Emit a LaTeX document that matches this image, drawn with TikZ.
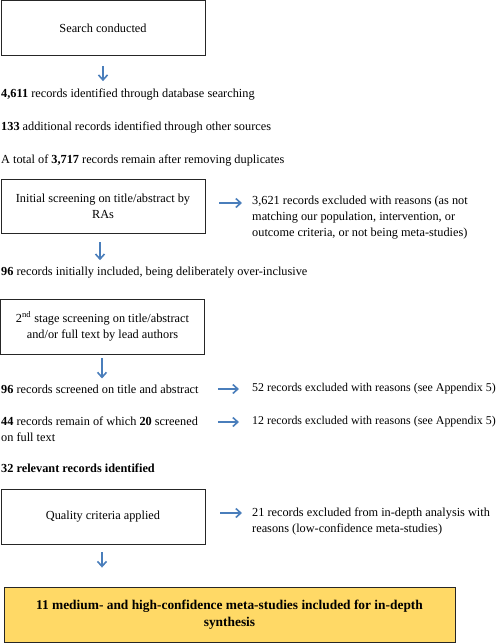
\documentclass[tikz,border=0pt]{standalone}
\usepackage{fontspec}
\setmainfont{Liberation Serif}
\usepackage{tikz}
\usetikzlibrary{arrows.meta,positioning}
\definecolor{flowblue}{HTML}{4A7EBB}
\definecolor{gold}{HTML}{FFD966}
\newcommand{\flowfont}{\fontsize{12.3}{16}\selectfont}
\tikzset{
  >={Straight Barb[length=5pt,width=9pt]},
  stepbox/.style={
    rectangle,
    draw=black!85, line width=0.9pt,
    minimum width=204pt,
    minimum height=55pt,
    align=center,
    font=\flowfont},
  finalbox/.style={
    stepbox,
    fill=gold,
    minimum width=451pt,
    font=\fontsize{13.4}{16.5}\selectfont\bfseries},
  note/.style={
    anchor=west,
    inner sep=0pt,
    align=left,
    font=\flowfont},
  flow/.style={draw=flowblue, line width=1.6pt, ->},
}
\begin{document}
\begin{tikzpicture}[x=1pt,y=-1pt]
  \useasboundingbox (0,0) rectangle (500,643);
  % left column
  \node[stepbox] (search) at (103,27.8) {Search conducted};
  \node[note] (dbrec) at (1,94) {\textbf{4,611} records identified through database searching};
  \node[note] (otherrec) at (1,127) {\textbf{133} additional records identified through other sources};
  \node[note] (total) at (1,160) {A total of \textbf{3,717} records remain after removing duplicates};
  \node[stepbox, minimum height=54pt] (initscreen) at (103,206) {Initial screening on title/abstract by\\RAs};
  \node[note] (initincl) at (1,273) {\textbf{96} records initially included, being deliberately over-inclusive};
  \node[stepbox] (stage2) at (102.5,326.5) {2\textsuperscript{nd} stage screening on title/abstract\\and/or full text by lead authors};
  \node[note] (screened) at (1,389) {\textbf{96} records screened on title and abstract};
  \node[note] (remain) at (1,429.5) {\textbf{44} records remain of which \textbf{20} screened\\on full text};
  \node[note, font=\flowfont\bfseries] (relevant) at (1,468) {32 relevant records identified};
  \node[stepbox] (quality) at (103,516.5) {Quality criteria applied};
  \node[finalbox] (final) at (229.5,614.5) {11 medium- and high-confidence meta-studies included for in-depth\\synthesis};
  % right column
  \node[note] (initexcl) at (252,218) {3,621 records excluded with reasons (as not\\matching our population, intervention, or\\outcome criteria, or not being meta-studies)};
  \node[note, font=\fontsize{11.9}{16}\selectfont] (excl52) at (252,389) {52 records excluded with reasons (see Appendix 5)};
  \node[note, font=\fontsize{11.9}{16}\selectfont] (excl12) at (252,422) {12 records excluded with reasons (see Appendix 5)};
  \node[note] (excl21) at (252,521) {21 records excluded from in-depth analysis with\\reasons (low-confidence meta-studies)};
  % arrows down
  \draw[flow, shorten <=10pt, shorten >=7pt] (search.south) -- (search.south |- dbrec.north);
  \draw[flow, shorten <=9pt, shorten >=7pt] ([xshift=-3pt]initscreen.south) -- ([xshift=-3pt]initscreen.south |- initincl.north);
  \draw[flow, shorten <=4pt, shorten >=6pt] ([xshift=-0.5pt]stage2.south) -- ([xshift=-0.5pt]stage2.south |- screened.north);
  \draw[flow, shorten <=8pt, shorten >=19pt] ([xshift=-1pt]quality.south) -- ([xshift=-1pt]quality.south |- final.north);
  % arrows right
  \draw[flow, shorten <=14pt, shorten >=10pt] (initscreen.east |- 0,203) -- (initexcl.west |- 0,203);
  \draw[flow, shorten <=13pt, shorten >=13pt] (stage2.east |- excl52.west) -- (excl52.west);
  \draw[flow, shorten <=13pt, shorten >=13pt] (stage2.east |- excl12.west) -- (excl12.west);
  \draw[flow, shorten <=15pt, shorten >=10pt] (quality.east |- 0,513) -- (excl21.west |- 0,513);
\end{tikzpicture}
\end{document}
